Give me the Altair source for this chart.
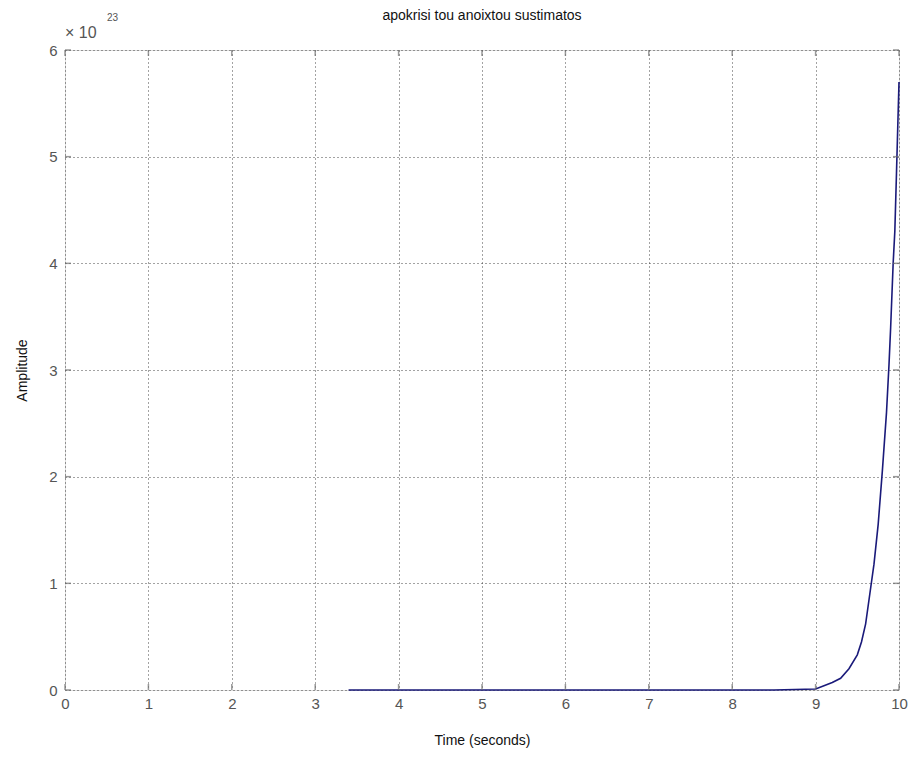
import altair as alt
import pandas as pd

# Time (seconds) and amplitude (in units of 1e23)
time_s = [3.4, 4.0, 5.0, 6.0, 7.0, 8.0, 8.5, 9.0, 9.1, 9.2, 9.3, 9.4, 9.5, 9.55,
          9.6, 9.65, 9.7, 9.75, 9.8, 9.85, 9.88, 9.9, 9.93, 9.95, 9.97, 10.0]
amplitude_e23 = [0.0, 0.0, 0.0, 0.0, 0.0, 0.0, 0.0, 0.01, 0.04, 0.07, 0.11, 0.2,
                 0.33, 0.45, 0.62, 0.9, 1.18, 1.55, 2.05, 2.6, 3.05, 3.4, 4.0, 4.3,
                 4.85, 5.7]

x_ticks = [0, 1, 2, 3, 4, 5, 6, 7, 8, 9, 10]
y_ticks = [0, 1, 2, 3, 4, 5, 6]

df = pd.DataFrame({"t": time_s, "a": amplitude_e23})
xt = pd.DataFrame({"v": x_ticks})
yt = pd.DataFrame({"v": y_ticks})

FONT = "Liberation Sans"
GRAY = "#6e6e6e"
LBL = "#555555"

W, H = 834, 640

xs = alt.Scale(domain=[0, 10], nice=False, zero=False)
ys = alt.Scale(domain=[0, 6], nice=False, zero=False)

line = alt.Chart(df).mark_line(color="#1a1a7a", strokeWidth=1.6).encode(
    x=alt.X("t:Q", scale=xs,
            axis=alt.Axis(values=x_ticks, format="d", title="Time (seconds)",
                          grid=True, gridDash=[1, 3], gridColor="#333333",
                          gridOpacity=0.9, tickSize=0, domain=False, labelPadding=6,
                          labelFlush=False,
                          labelFont=FONT, labelFontSize=15, labelColor=LBL,
                          titleFont=FONT, titleFontSize=14, titleFontWeight="normal",
                          titleColor="#111111", titleX=W / 2, titleY=50,
                          titleBaseline="middle", titleAlign="center")),
    y=alt.Y("a:Q", scale=ys,
            axis=alt.Axis(values=y_ticks, format="d", title="Amplitude", grid=True,
                          gridDash=[1, 3], gridColor="#333333", gridOpacity=0.9,
                          tickSize=0, domain=False, labelPadding=8,
                          labelFlush=False,
                          labelFont=FONT, labelFontSize=15, labelColor=LBL,
                          titleFont=FONT, titleFontSize=14, titleFontWeight="normal",
                          titleColor="#111111", titleX=-43, titleY=H / 2,
                          titleBaseline="middle", titleAlign="center")),
)

tick_style = dict(color=GRAY, thickness=1.5, size=6)
bx = alt.Chart(xt).mark_tick(orient="vertical", yOffset=-3, **tick_style).encode(
    x=alt.X("v:Q", scale=xs), y=alt.datum(0, scale=ys))
tx = alt.Chart(xt).mark_tick(orient="vertical", yOffset=3, **tick_style).encode(
    x=alt.X("v:Q", scale=xs), y=alt.datum(6, scale=ys))
ly = alt.Chart(yt).mark_tick(orient="horizontal", xOffset=3, **tick_style).encode(
    y=alt.Y("v:Q", scale=ys), x=alt.datum(0, scale=xs))
ry = alt.Chart(yt).mark_tick(orient="horizontal", xOffset=-3, **tick_style).encode(
    y=alt.Y("v:Q", scale=ys), x=alt.datum(10, scale=xs))

exp_txt = alt.Chart(pd.DataFrame({"s": ["\u00d7 10"]})).mark_text(
    font=FONT, fontSize=16, color=LBL, align="left", baseline="middle"
).encode(text="s:N", x=alt.value(0), y=alt.value(-17))
exp_sup = alt.Chart(pd.DataFrame({"s": ["23"]})).mark_text(
    font=FONT, fontSize=10, color=LBL, align="left", baseline="middle"
).encode(text="s:N", x=alt.value(42), y=alt.value(-32))
title_txt = alt.Chart(pd.DataFrame({"s": ["apokrisi tou anoixtou sustimatos"]})).mark_text(
    font=FONT, fontSize=14, color="#111111", align="center", baseline="middle"
).encode(text="s:N", x=alt.value(W / 2), y=alt.value(-34))

chart = alt.layer(line, bx, tx, ly, ry, exp_txt, exp_sup, title_txt).properties(
    width=W, height=H,
    autosize=alt.AutoSizeParams(type="none"),
    padding={"left": 57, "top": 42, "right": 10, "bottom": 60},
).configure_view(stroke=GRAY, strokeWidth=1.5).configure(background="white")

chart.save("out.html", embed_options={"renderer": "svg", "actions": False})
